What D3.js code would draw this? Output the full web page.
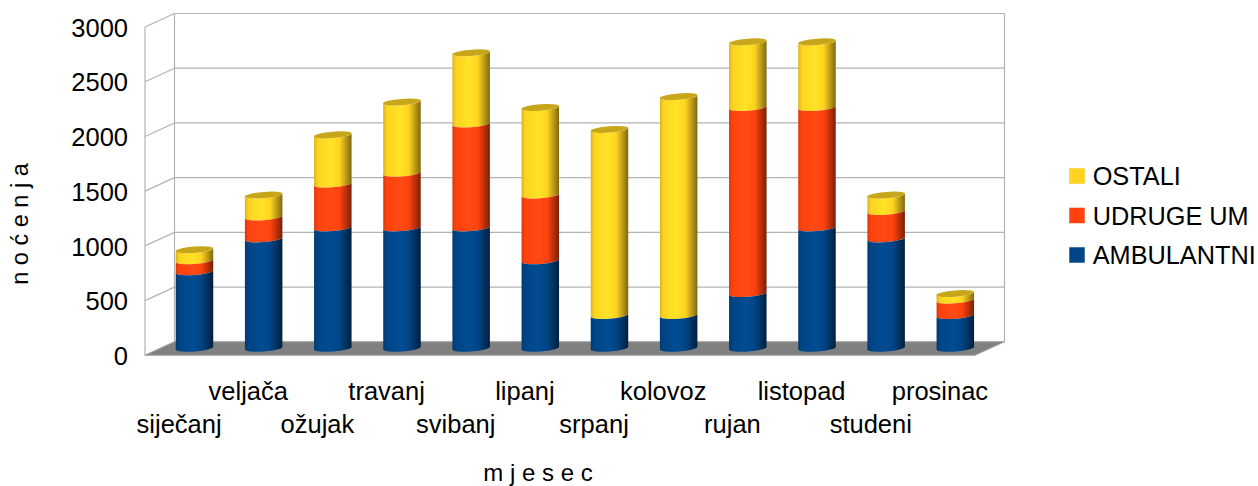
<!DOCTYPE html>
<html><head><meta charset="utf-8">
<script src="https://cdn.jsdelivr.net/npm/d3@7"></script>
<style>
html,body{margin:0;padding:0;background:#fff}
svg{display:block}
text{font-family:"Liberation Sans",Arial,sans-serif;fill:#000}
</style></head><body><div id="c"></div>
<script>
const months=["siječanj","veljača","ožujak","travanj","svibanj","lipanj","srpanj","kolovoz","rujan","listopad","studeni","prosinac"];
const ambulantni=[700,1000,1100,1100,1100,800,300,300,500,1100,1000,300];
const udruge=[100,200,400,500,950,600,0,0,1700,1100,250,140];
const ostali=[100,200,450,650,650,800,1700,2000,600,600,150,60];
const seriesNames=["AMBULANTNI","UDRUGE UM","OSTALI"];
const seriesColors=["#004586","#ff420e","#ffd320"];
const seriesDark=["#001f3d","#7a2007","#7d6810"];
const seriesLight=["#004c92","#ff4a14","#ffe326"];
const yTicks=[0,500,1000,1500,2000,2500,3000];

const W=1258,H=486;
const svg=d3.select("#c").append("svg").attr("width",W).attr("height",H);
const dx=29.5,dy=-13.5; // depth shift of the back wall
const y=d3.scaleLinear().domain([0,3000]).range([355.3,27]);
const x=d3.scaleBand().domain(months).range([145,975]);
const barW=37.5, ry=3.2, barDy=-7, tilt=1.5, rot=-4.5;

const defs=svg.append("defs");
seriesColors.forEach((c,i)=>{
  const g=defs.append("linearGradient").attr("id","g"+i);
  [[0,d3.interpolateRgb(seriesDark[i],c)(0.72)],[.1,c],[.45,seriesLight[i]],[.68,c],[.86,d3.interpolateRgb(c,seriesDark[i])(.55)],[1,seriesDark[i]]]
   .forEach(s=>g.append("stop").attr("offset",s[0]).attr("stop-color",s[1]));
});

// walls
const grid="#b3b3b3";
const gw=svg.append("g").attr("fill","none").attr("stroke",grid).attr("stroke-width",1.2);
gw.selectAll("line.h").data(yTicks).join("line").attr("class","h")
  .attr("x1",145+dx).attr("x2",975+dx).attr("y1",d=>y(d)+dy).attr("y2",d=>y(d)+dy);
gw.selectAll("line.d").data(yTicks).join("line").attr("class","d")
  .attr("x1",145).attr("x2",145+dx).attr("y1",d=>y(d)).attr("y2",d=>y(d)+dy);
gw.append("line").attr("x1",145).attr("x2",145).attr("y1",y(0)).attr("y2",y(3000));
gw.append("line").attr("x1",145+dx).attr("x2",145+dx).attr("y1",y(0)+dy).attr("y2",y(3000)+dy);
gw.append("line").attr("x1",975+dx).attr("x2",975+dx).attr("y1",y(0)+dy).attr("y2",y(3000)+dy);
// floor
svg.append("path").attr("fill","#808080").attr("stroke","#a6a6a6").attr("stroke-width",1)
  .attr("d",d3.line()([[145,y(0)],[145+dx,y(0)+dy],[975+dx,y(0)+dy],[975,y(0)]])+"Z");

// bars
const table=months.map((m,i)=>({m,a:ambulantni[i],u:udruge[i],o:ostali[i]}));
const stacked=d3.stack().keys(["a","u","o"])(table);
const cx=d=>x(d.data.m)+x.bandwidth()/2+dx*0.505;
const by=v=>y(v)+barDy;
const seg=d=>{
  const c=cx(d),l=c-barW/2,r=c+barW/2,t=by(d[1]),b=by(d[0]);
  return `M${l},${t+tilt}L${l},${b+tilt}A${barW/2},${ry} ${rot} 0 0 ${r},${b-tilt}L${r},${t-tilt}A${barW/2},${ry} ${rot} 0 1 ${l},${t+tilt}Z`;
};
const gb=svg.append("g");
stacked.slice().reverse().forEach(s=>{
  const i=s.index;
  gb.append("g").selectAll("path").data(s.filter(d=>d[1]>d[0])).join("path")
    .attr("d",seg).attr("fill",`url(#g${i})`);
});
// top caps
const tops=stacked[2].map((d,k)=>{
  const idx=stacked[2][k][1]>stacked[2][k][0]?2:stacked[1][k][1]>stacked[1][k][0]?1:0;
  return {d:stacked[idx][k],idx};
});
gb.append("g").selectAll("ellipse").data(tops).join("ellipse")
  .attr("transform",t=>`translate(${cx(t.d)},${by(t.d[1])}) rotate(${rot})`)
  .attr("rx",barW/2+.2).attr("ry",ry)
  .attr("fill",t=>d3.interpolateRgb(seriesColors[t.idx],seriesDark[t.idx])(.42));

// y axis
const ya=svg.append("g").attr("transform","translate(128,0)")
  .call(d3.axisLeft(y).tickValues(yTicks).tickSize(0).tickPadding(0).tickFormat(d3.format("d")));
ya.select(".domain").remove();
ya.selectAll("text").attr("font-size",25.5).attr("font-family","Liberation Sans").attr("dy","0.36em");

// x axis, staggered labels
const xa=svg.append("g").attr("transform","translate(-0.5,0)")
  .call(d3.axisBottom(x).tickSize(0).tickPadding(0));
xa.select(".domain").remove();
xa.selectAll("text").attr("font-size",25.5).attr("font-family","Liberation Sans").attr("dy",0)
  .attr("y",(d,i)=>i%2?399.5:432.5);

// axis titles
svg.append("text").attr("x",538).attr("y",480.5).attr("text-anchor","middle").attr("font-size",24)
  .text("m j e s e c");
svg.append("text").attr("transform","translate(28,224) rotate(-90)").attr("text-anchor","middle").attr("font-size",23.5)
  .text("n o ć e n j a");

// legend
const lg=svg.append("g");
const rev=[2,1,0];
lg.selectAll("rect").data(rev).join("rect").attr("x",1069).attr("width",16).attr("height",16)
  .attr("y",(d,i)=>168+i*39.5).attr("fill",d=>seriesColors[d]).attr("stroke","#eeeeee").attr("stroke-width",.6);
lg.selectAll("text").data(rev).join("text").attr("x",1092.7).attr("y",(d,i)=>185+i*39.6)
  .attr("font-size",25.3).text(d=>seriesNames[d]);
</script></body></html>
